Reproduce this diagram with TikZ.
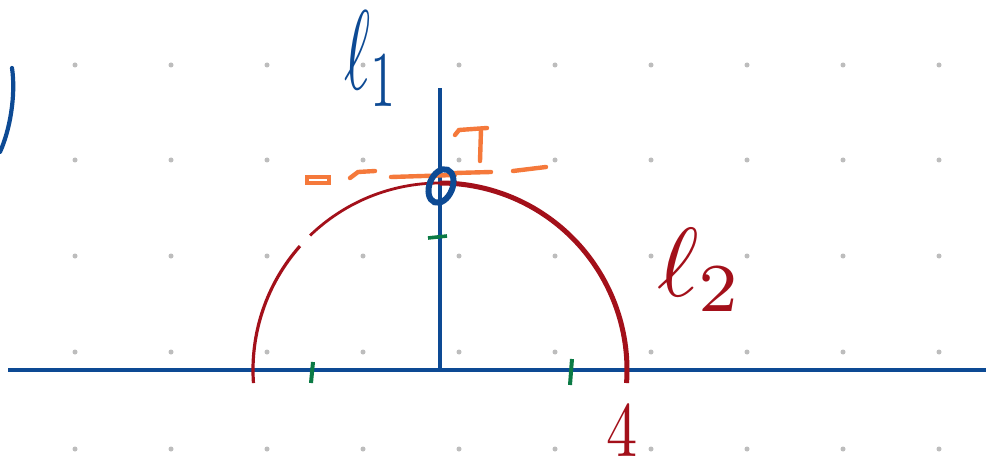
\documentclass[tikz,border=0pt]{standalone}
\usetikzlibrary{shapes.geometric}
\definecolor{inkblue}{HTML}{0D4A94}
\definecolor{inkred}{HTML}{A3101A}
\definecolor{inkorange}{HTML}{F5793B}
\definecolor{inkgreen}{HTML}{0B7A45}
\definecolor{dotgray}{HTML}{BDBDBD}
\begin{document}
\begin{tikzpicture}[x=1pt,y=1pt,
  gdot/.style={fill=dotgray,draw=none},
  axis/.style={draw=inkblue,line width=4.2pt},
  tick/.style={draw=inkgreen,line width=4pt},
  ostroke/.style={draw=inkorange,line width=4.4pt,line cap=round},
  lbl/.style={inner sep=0pt,anchor=base west}]
\useasboundingbox (0,0) rectangle (986,475);
\fill[white] (0,0) rectangle (986,475);
% dot grid
\foreach \i in {0,...,9}{
  \foreach \y in {26,123,219,315,410}{
    \fill[gdot] (75+96*\i,\y) circle[radius=2.5];
  }
}
% axes
\coordinate (O) at (440,105);
\coordinate (xl) at (8,105);
\coordinate (xr) at (986,105);
\coordinate (yt) at (440,387);
\draw[axis] (xl) -- (xr);
\draw[axis,line width=3.6pt] (O) -- (yt);
% semicircle
\draw[inkred,line width=5pt] ([shift={(-4:187)}]O) arc[start angle=-4,end angle=90,radius=187];
\draw[inkred,line width=2.8pt] ([shift={(90:187)}]O) arc[start angle=90,end angle=134,radius=187];
\draw[inkred,line width=3.2pt] ([shift={(138.5:187)}]O) arc[start angle=138.5,end angle=184,radius=187];
% green ticks
\coordinate (ta1) at (313,113); \coordinate (ta2) at (311,92);
\coordinate (tb1) at (572,116); \coordinate (tb2) at (570,90);
\coordinate (tc1) at (428,237); \coordinate (tc2) at (447,239);
\draw[tick] (ta1) -- (ta2);
\draw[tick] (tb1) -- (tb2);
\draw[tick,line width=3.6pt] (tc1) -- (tc2);
% orange dashed line and mark
\coordinate (r1) at (307,292); \coordinate (r2) at (329,298);
\draw[ostroke,line width=3.6pt,line cap=butt] (r1) rectangle (r2);
\coordinate (d1a) at (350,297); \coordinate (d1b) at (358,303); \coordinate (d1c) at (375,304);
\draw[ostroke] (d1a) -- (d1b) -- (d1c);
\coordinate (d2a) at (391,298); \coordinate (d2b) at (455,300);
\draw[ostroke] (d2a) -- (d2b);
\coordinate (d3a) at (455,302); \coordinate (d3b) at (491,303);
\draw[ostroke] (d3a) -- (d3b);
\coordinate (d4a) at (513,304); \coordinate (d4b) at (546,308);
\draw[ostroke] (d4a) -- (d4b);
\coordinate (s1) at (455,340); \coordinate (s2) at (459,345); \coordinate (s3) at (487,347);
\coordinate (s4) at (481,345); \coordinate (s5) at (480,314);
\draw[ostroke] (s1) -- (s2) -- (s3);
\draw[ostroke] (s4) -- (s5);
% blue point marker
\node[draw=inkblue,line width=6pt,ellipse,minimum width=23pt,minimum height=35pt,inner sep=0pt,rotate=-22] (P) at (441,289) {};
% left partial stroke
\coordinate (c1) at (12,407); \coordinate (c2) at (0,323);
\draw[inkblue,line width=4.2pt,line cap=round] (c1) .. controls (16,380) and (10,345) .. (c2);
% labels
\node[lbl,text=inkblue,xscale=6.3,yscale=11.3] (l1) at (343,385) {$\ell_{1}$};
\node[lbl,text=inkred,xscale=10,yscale=9.8] (l2) at (655,178) {$\ell_{2}$};
\node[lbl,text=inkred,scale=7.8,xscale=0.8] (n4) at (605,18) {4};
\end{tikzpicture}
\end{document}
